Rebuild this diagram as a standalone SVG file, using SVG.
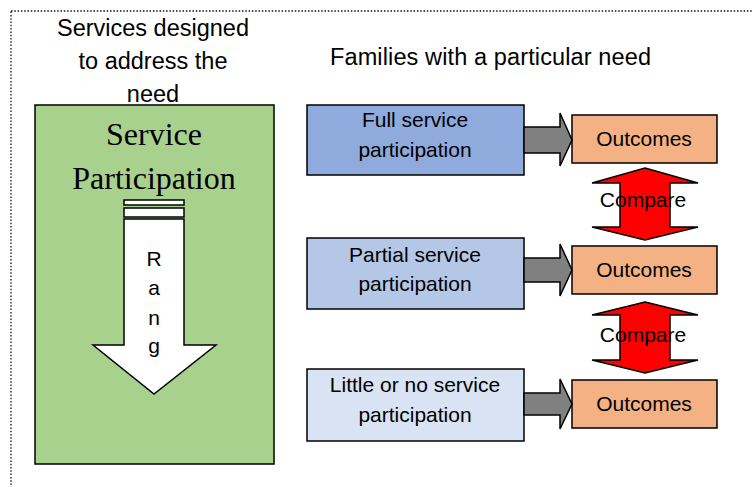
<svg xmlns="http://www.w3.org/2000/svg" width="752" height="487" viewBox="0 0 752 487">
<style>
  .sans { font-family: "Liberation Sans", Arial, sans-serif; fill: #000; }
  .t235 { font-size: 23.5px; }
  .t21 { font-size: 21px; }
  .serif { font-family: "Liberation Serif", "Times New Roman", serif; font-size: 32px; fill: #000; }
  .box { stroke: #000; stroke-width: 1.5; }
  .ln { stroke: #000; stroke-width: 1.5; stroke-linejoin: miter; }
</style>
<rect x="11" y="11" width="760" height="500" fill="none" stroke="#111" stroke-width="1.3" stroke-dasharray="1.5,1.8"/>

<g id="services-label">
  <text class="sans t235" text-anchor="middle" x="153" y="36">Services designed</text>
  <text class="sans t235" text-anchor="middle" x="153" y="69">to address the</text>
  <text class="sans t235" text-anchor="middle" x="153" y="102">need</text>
</g>

<g id="service-participation">
  <rect class="box" x="35" y="105" width="239" height="359" fill="#A9D18E"/>
  <text class="serif" text-anchor="middle" x="154" y="145">Service</text>
  <text class="serif" text-anchor="middle" x="154" y="189">Participation</text>
  <rect class="ln" x="124" y="200" width="60" height="5" fill="#fff"/>
  <rect class="ln" x="124" y="208" width="60" height="9" fill="#fff"/>
  <polygon class="ln" points="124,219 184,219 184,345 216,345 154,394 93,345 124,345" fill="#fff"/>
  <text class="sans t21" text-anchor="middle" x="154" y="266">R</text>
  <text class="sans t21" text-anchor="middle" x="154" y="295">a</text>
  <text class="sans t21" text-anchor="middle" x="154" y="325">n</text>
  <text class="sans t21" text-anchor="middle" x="154" y="353">g</text>
</g>

<g id="families-label">
  <text class="sans t235" x="330" y="65" textLength="321">Families with a particular need</text>
</g>

<g id="full">
  <rect class="box" x="307" y="105" width="217" height="70" fill="#8FAADC"/>
  <text class="sans t21" text-anchor="middle" x="415" y="127">Full service</text>
  <text class="sans t21" text-anchor="middle" x="415" y="157">participation</text>
</g>
<g id="partial">
  <rect class="box" x="307" y="238" width="217" height="71" fill="#B4C7E7"/>
  <text class="sans t21" text-anchor="middle" x="415" y="262">Partial service</text>
  <text class="sans t21" text-anchor="middle" x="415" y="291">participation</text>
</g>
<g id="little">
  <rect class="box" x="307" y="369" width="217" height="72" fill="#DAE3F3"/>
  <text class="sans t21" text-anchor="middle" x="415" y="392">Little or no service</text>
  <text class="sans t21" text-anchor="middle" x="415" y="422">participation</text>
</g>

<g id="outcomes1">
  <rect class="box" x="572" y="115" width="145" height="48" fill="#F4B183"/>
  <text class="sans t21" text-anchor="middle" x="644" y="146">Outcomes</text>
</g>
<g id="outcomes2">
  <rect class="box" x="572" y="246" width="145" height="48" fill="#F4B183"/>
  <text class="sans t21" text-anchor="middle" x="644" y="277">Outcomes</text>
</g>
<g id="outcomes3">
  <rect class="box" x="572" y="380" width="145" height="48" fill="#F4B183"/>
  <text class="sans t21" text-anchor="middle" x="644" y="411">Outcomes</text>
</g>

<g id="connectors">
  <polygon class="ln" fill="#808080" points="524,127 560,127 560,113 572,140 560,166 560,153 524,153"/>
  <polygon class="ln" fill="#808080" points="524,258 560,258 560,244 572,270 560,296 560,282 524,282"/>
  <polygon class="ln" fill="#808080" points="524,393 560,393 560,379 572,404 560,429 560,415 524,415"/>
  <g id="compare1">
    <polygon class="ln" fill="#FF0000" points="645,168 698,183 670,183 670,227 698,227 645,240 592,227 620,227 620,183 592,183"/>
    <text class="sans t21" text-anchor="middle" x="643" y="207">Compare</text>
  </g>
  <g id="compare2">
    <polygon class="ln" fill="#FF0000" points="645,302 698,315 670,315 670,360 698,360 645,373 592,360 620,360 620,315 592,315"/>
    <text class="sans t21" text-anchor="middle" x="643" y="342">Compare</text>
  </g>
</g>
</svg>
